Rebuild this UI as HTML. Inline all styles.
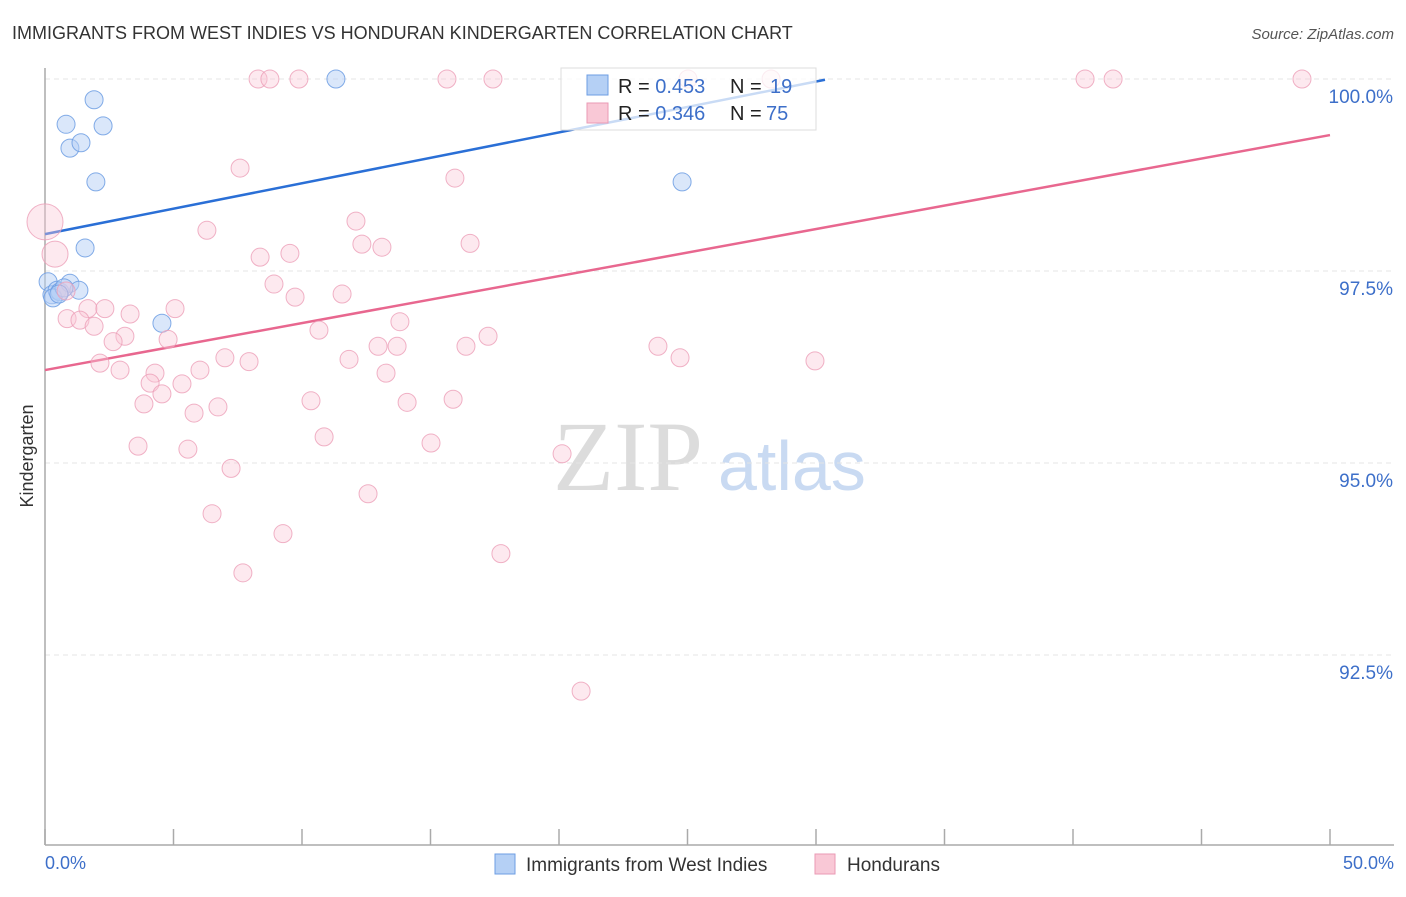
<!DOCTYPE html>
<html><head><meta charset="utf-8"><style>
body{margin:0;background:#fff;font-family:"Liberation Sans",sans-serif}
svg text{font-family:"Liberation Sans",sans-serif}
</style></head><body>
<svg width="1406" height="892" xmlns="http://www.w3.org/2000/svg" id="chart">
<text x="12" y="39" font-size="18" fill="#333">IMMIGRANTS FROM WEST INDIES VS HONDURAN KINDERGARTEN CORRELATION CHART</text>
<text x="1394" y="39" font-size="15" fill="#555" text-anchor="end" font-style="italic">Source: ZipAtlas.com</text>
<text x="553" y="490" font-size="100" fill="#dcdcdc" font-family="Liberation Serif" style="font-family:'Liberation Serif',serif">ZIP</text>
<text x="718" y="490" font-size="70" fill="#c9daf2">atlas</text>
<g id="grid"></g><g id="axes"></g><g id="lines"></g><g id="pts"></g>
<text transform="translate(33,456) rotate(-90)" font-size="18" fill="#333" text-anchor="middle">Kindergarten</text>
<text x="45" y="869" font-size="18" fill="#3d6fc9">0.0%</text>
<text x="1394" y="869" font-size="18" fill="#3d6fc9" text-anchor="end">50.0%</text>
<g>
<rect x="561" y="68" width="255" height="62" fill="#fff" fill-opacity="0.75" stroke="#ddd"/>
<rect x="587" y="75" width="21" height="20" fill="#b5d0f5" stroke="#6d9ee3"/>
<rect x="587" y="103" width="21" height="20" fill="#f9c8d6" stroke="#ea9ab4"/>
<text x="618" y="93" font-size="20" fill="#222">R = <tspan fill="#3d6fc9">0.453</tspan></text>
<text x="730" y="93" font-size="20" fill="#222">N = </text><text x="770" y="93" font-size="20" fill="#3d6fc9">19</text>
<text x="618" y="120" font-size="20" fill="#222">R = <tspan fill="#3d6fc9">0.346</tspan></text>
<text x="730" y="120" font-size="20" fill="#222">N = </text><text x="766" y="120" font-size="20" fill="#3d6fc9">75</text>
</g>
<g>
<rect x="495" y="854" width="20" height="20" fill="#b5d0f5" stroke="#6d9ee3"/>
<text x="526" y="871" font-size="19" fill="#333">Immigrants from West Indies</text>
<rect x="815" y="854" width="20" height="20" fill="#f9c8d6" stroke="#ea9ab4"/>
<text x="847" y="871" font-size="19" fill="#333">Hondurans</text>
</g>
</svg>
<script>
const yTicks=[100,97.5,95,92.5];
const yTickLabels=["100.0%","97.5%","95.0%","92.5%"];
const xTicks=[0,5,10,15,20,25,30,35,40,45,50];
const blueX=[1.91,0.82,2.26,0.97,1.40,1.98,1.56,11.32,24.79,4.55,0.12,0.27,0.47,0.58,0.97,1.32,0.31,0.74,0.54];
const blueY=[99.73,99.41,99.39,99.10,99.17,98.66,97.80,100,98.66,96.82,97.36,97.19,97.25,97.23,97.34,97.25,97.15,97.28,97.20];
const pinkX=[8.29,8.75,9.88,15.64,17.43,25.02,28.25,40.47,41.56,48.91,7.59,15.95,12.10,0,6.30,16.54,12.33,13.11,0.39,8.37,9.53,8.91,9.73,11.56,0.82,1.67,2.33,3.31,5.06,0.86,1.36,1.91,3.11,2.65,4.79,10.66,13.81,17.24,12.96,13.70,16.38,23.85,24.71,29.96,11.83,7.94,7.00,2.14,2.92,4.28,6.03,13.27,4.09,5.33,4.55,3.85,5.80,6.73,10.35,14.09,15.88,3.62,5.56,10.86,15.02,20.12,7.24,12.57,6.50,9.26,17.74,7.70,20.86];
const pinkY=[100,100,100,100,100,100,100,100,100,100,98.84,98.71,98.15,98.14,98.03,97.86,97.85,97.81,97.72,97.68,97.73,97.33,97.16,97.20,97.24,97.01,97.01,96.94,97.01,96.88,96.86,96.78,96.65,96.58,96.61,96.73,96.84,96.65,96.52,96.52,96.52,96.52,96.37,96.33,96.35,96.32,96.37,96.30,96.21,96.17,96.21,96.17,96.04,96.03,95.90,95.77,95.65,95.73,95.81,95.79,95.83,95.22,95.18,95.34,95.26,95.12,94.93,94.60,94.34,94.08,93.82,93.57,92.03];
const pinkR=[9,9,9,9,9,9,9,9,9,9,9,9,9,18,9,9,9,9,13];
const blueLine=[[0,97.98],[30.35,99.99]];
const pinkLine=[[0,96.21],[50,99.27]];
const NS="http://www.w3.org/2000/svg";
const sx=v=>45+v*25.7, sy=v=>79+(100-v)*76.8;
function mk(t,a,p){const e=document.createElementNS(NS,t);for(const k in a)e.setAttribute(k,a[k]);document.getElementById(p).appendChild(e);return e;}
yTicks.forEach((t,i)=>{
 let l=mk('line',{x1:45,x2:1394,y1:sy(t),y2:sy(t),stroke:'#e4e4e4','stroke-dasharray':'5,4'},'grid');
 
 
 let tx=mk('text',{x:1393,y:sy(t)+24,'font-size':19,fill:'#3d6fc9','text-anchor':'end'},'grid');tx.textContent=yTickLabels[i];
 
 
});
let ya=mk('line',{x1:45,x2:45,y1:68,y2:845,stroke:'#aaa','stroke-width':1.5},'axes');


let xa=mk('line',{x1:45,x2:1394,y1:845,y2:845,stroke:'#aaa','stroke-width':1.5},'axes');


xTicks.forEach(t=>{let l=mk('line',{x1:sx(t),x2:sx(t),y1:829,y2:845,stroke:'#aaa','stroke-width':1.5},'axes');
 
 });
blueX.forEach((x,i)=>{let c=mk('circle',{cx:sx(x),cy:sy(blueY[i]),r:9,fill:'#b5d0f5','fill-opacity':0.5,stroke:'#6d9ee3','stroke-opacity':0.85,'stroke-width':1},'pts');
 
 });
pinkX.forEach((x,i)=>{let c=mk('circle',{cx:sx(x),cy:sy(pinkY[i]),r:pinkR[i]||9,fill:'#f9c8d6','fill-opacity':0.4,stroke:'#ec9fb8','stroke-opacity':0.8,'stroke-width':1},'pts');
 
 });
let bl=mk('line',{x1:sx(blueLine[0][0]),y1:sy(blueLine[0][1]),x2:sx(blueLine[1][0]),y2:sy(blueLine[1][1]),stroke:'#2a6fd6','stroke-width':2.5},'lines');


let pl=mk('line',{x1:sx(pinkLine[0][0]),y1:sy(pinkLine[0][1]),x2:sx(pinkLine[1][0]),y2:sy(pinkLine[1][1]),stroke:'#e8678f','stroke-width':2.5},'lines');


</script>
</body></html>
